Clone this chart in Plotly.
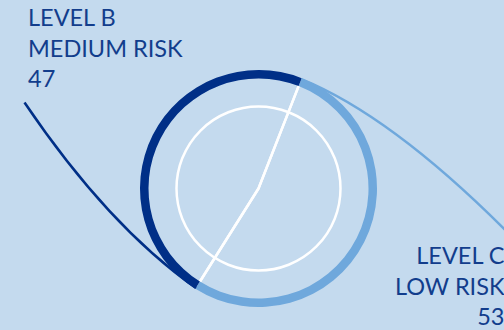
import math
import plotly.graph_objects as go

# ---- data ----
labels = ["LEVEL C<br>LOW RISK", "LEVEL B<br>MEDIUM RISK"]
values = [53, 47]
colors = ["#6fa8dc", "#002f87"]
text_color = "#123d8c"
bg = "#c4daee"

W, H = 504, 330
cx, cy = 258.5, 188.5      # ring centre (px)
R_out, R_in = 118.5, 110.0
R_white = 82
rotation = 21.4

def px(x):
    return x / W

def py(y):
    return 1 - y / H

fig = go.Figure()

# white radial separators (transparent pie beneath the ring)
R_sep = 114
fig.add_trace(go.Pie(
    labels=labels, values=values, sort=False, direction="clockwise", rotation=rotation,
    marker=dict(colors=["rgba(0,0,0,0)"] * 2, line=dict(color="white", width=2.5)),
    textinfo="none", hoverinfo="skip", showlegend=False,
    domain=dict(x=[px(cx - R_sep), px(cx + R_sep)], y=[py(cy + R_sep), py(cy - R_sep)]),
))

# coloured ring
fig.add_trace(go.Pie(
    labels=labels, values=values, sort=False, direction="clockwise", rotation=rotation,
    hole=R_in / R_out,
    marker=dict(colors=colors, line=dict(width=0)),
    textinfo="none", hoverinfo="label+value", showlegend=False,
    domain=dict(x=[px(cx - R_out), px(cx + R_out)], y=[py(cy + R_out), py(cy - R_out)]),
))

# inner white circle
fig.add_shape(type="circle", xref="paper", yref="paper",
              x0=px(cx - R_white), x1=px(cx + R_white),
              y0=py(cy + R_white), y1=py(cy - R_white),
              line=dict(color="white", width=2.5))

# boundary angles from data
total = sum(values)
a1 = math.radians(rotation)
a2 = math.radians(rotation + 360 * values[0] / total)
Rb = R_out - 1
b1 = (cx + Rb * math.sin(a1), cy - Rb * math.cos(a1))
b2 = (cx + Rb * math.sin(a2), cy - Rb * math.cos(a2))

def qpath(p0, c, p1):
    return (f"M {px(p0[0])},{py(p0[1])} Q {px(c[0])},{py(c[1])} {px(p1[0])},{py(p1[1])}")

# leader line to left label (dark)
fig.add_shape(type="path", xref="paper", yref="paper",
              path=qpath((24.5, 102.5), (108, 226), b2),
              line=dict(color=colors[1], width=2.5))
# leader line to right label (light)
fig.add_shape(type="path", xref="paper", yref="paper",
              path=qpath(b1, (397, 118), (522, 247)),
              line=dict(color=colors[0], width=2.5))

font = dict(family="Lato, sans-serif", size=23.5, color=text_color)
fig.add_annotation(xref="paper", yref="paper", x=px(26), y=py(1),
                   xanchor="left", yanchor="top", align="left", showarrow=False,
                   text=f"{labels[1]}<br>{values[1]}", font=font)
fig.add_annotation(xref="paper", yref="paper", x=px(507), y=py(239),
                   xanchor="right", yanchor="top", align="right", showarrow=False,
                   text=f"{labels[0]}<br>{values[0]}", font=font)

fig.update_layout(width=W, height=H, margin=dict(l=0, r=0, t=0, b=0),
                  paper_bgcolor=bg, plot_bgcolor=bg)
fig.write_html("out.html")
